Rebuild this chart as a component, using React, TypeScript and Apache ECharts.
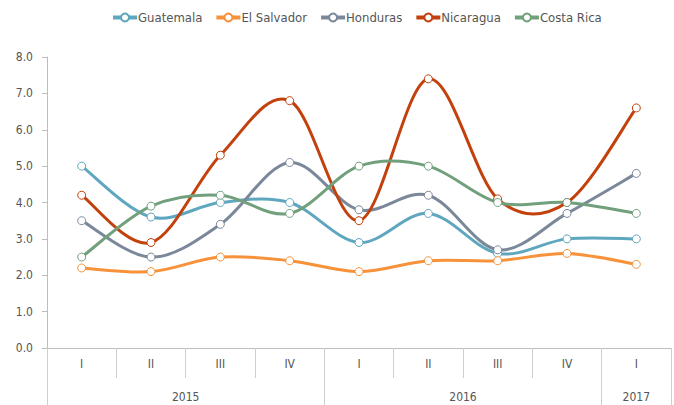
import React, { useEffect, useRef } from "react";
import * as echarts from "echarts";

const quarters = ["I", "II", "III", "IV", "I", "II", "III", "IV", "I"];
const yearSlots = ["", "", "", "", "2015", "", "", "", "", "", "", "", "2016", "", "", "", "", "2017", ""];
const yearTickIdx = [0, 8, 16, 18];

const seriesNames = ["Guatemala", "El Salvador", "Honduras", "Nicaragua", "Costa Rica"];
const colors = ["#5fa6bf", "#f7923a", "#7a889a", "#c2410c", "#72a07c"];

const guatemala = [5.0, 3.6, 4.0, 4.0, 2.9, 3.7, 2.6, 3.0, 3.0];
const elSalvador = [2.2, 2.1, 2.5, 2.4, 2.1, 2.4, 2.4, 2.6, 2.3];
const honduras = [3.5, 2.5, 3.4, 5.1, 3.8, 4.2, 2.7, 3.7, 4.8];
const nicaragua = [4.2, 2.9, 5.3, 6.8, 3.5, 7.4, 4.1, 4.0, 6.6];
const costaRica = [2.5, 3.9, 4.2, 3.7, 5.0, 5.0, 4.0, 4.0, 3.7];

const allData = [guatemala, elSalvador, honduras, nicaragua, costaRica];

const FONT = "'DejaVu Sans Condensed', 'Liberation Sans Narrow', Roboto, sans-serif";

function curvePath(pts: number[][]): string {
  const n = pts.length;
  let d = `M${pts[0][0]},${pts[0][1]}`;
  for (let i = 0; i < n - 1; i++) {
    const p0 = pts[Math.max(i - 1, 0)];
    const p1 = pts[i];
    const p2 = pts[i + 1];
    const p3 = pts[Math.min(i + 2, n - 1)];
    const c1x = p1[0] + (p2[0] - p0[0]) / 6;
    const c1y = p1[1] + (p2[1] - p0[1]) / 6;
    const c2x = p2[0] - (p3[0] - p1[0]) / 6;
    const c2y = p2[1] - (p3[1] - p1[1]) / 6;
    d += ` C${c1x},${c1y} ${c2x},${c2y} ${p2[0]},${p2[1]}`;
  }
  return d;
}

export default function App() {
  const ref = useRef<HTMLDivElement>(null);
  useEffect(() => {
    const chart = echarts.init(ref.current!, undefined, { renderer: "svg" });
    const markerSeries = seriesNames.map((name, i) => ({
      name,
      type: "line",
      xAxisIndex: 0,
      data: allData[i],
      symbol: "circle",
      symbolSize: 8,
      showSymbol: true,
      color: colors[i],
      lineStyle: { width: 0, opacity: 0, color: colors[i] },
      itemStyle: { color: "#fff", borderColor: colors[i], borderWidth: 1 },
      z: 10,
    }));
    const curveSeries = seriesNames.map((name, i) => ({
      name: name + " curve",
      type: "custom",
      xAxisIndex: 0,
      data: allData[i].map((v, j) => [j, v]),
      z: 2 + i,
      silent: true,
      renderItem: (params: any, api: any) => {
        if (params.dataIndex !== 0) return null;
        const pts = allData[i].map((v, j) => api.coord([j, v]));
        return {
          type: "path",
          shape: { pathData: curvePath(pts) },
          style: { fill: "none", stroke: colors[i], lineWidth: 3, lineJoin: "round", lineCap: "round" },
        };
      },
    }));
    chart.setOption({
      animation: false,
      textStyle: { fontFamily: FONT },
      legend: {
        top: 6,
        left: 106,
        itemWidth: 24,
        itemHeight: 10,
        itemGap: 12,
        textStyle: { color: "#555", fontSize: 13, fontFamily: FONT, padding: [0, 0, 0, -4] },
        data: seriesNames.map((name, i) => ({
          name,
          lineStyle: { width: 4, opacity: 1, color: colors[i] },
        })),
      },
      grid: { left: 47, right: 0, top: 57, bottom: 57, containLabel: false },
      xAxis: [
        {
          type: "category",
          data: quarters,
          boundaryGap: true,
          axisLine: { lineStyle: { color: "#bdbdbd" } },
          axisTick: { show: true, interval: 0, length: 30, lineStyle: { color: "#cfcfcf" } },
          axisLabel: { color: "#555", fontSize: 12, margin: 10, interval: 0, fontFamily: FONT },
        },
        {
          type: "category",
          data: yearSlots,
          boundaryGap: false,
          position: "bottom",
          offset: 30,
          axisLine: { show: false },
          axisTick: {
            show: true,
            length: 27,
            interval: (i: number) => yearTickIdx.indexOf(i) >= 0,
            lineStyle: { color: "#cfcfcf" },
          },
          axisLabel: { color: "#555", fontSize: 12, margin: 13, interval: 0, fontFamily: FONT },
        },
      ],
      yAxis: {
        type: "value",
        min: 0,
        max: 8,
        interval: 1,
        axisLine: { show: true, lineStyle: { color: "#bdbdbd" } },
        axisTick: { show: true, length: 5, lineStyle: { color: "#bdbdbd" } },
        splitLine: { show: false },
        axisLabel: {
          color: "#555",
          fontSize: 12,
          margin: 14,
          fontFamily: FONT,
          formatter: (v: number) => v.toFixed(1),
        },
      },
      series: [...markerSeries, ...curveSeries],
    });
    return () => chart.dispose();
  }, []);
  return <div ref={ref} style={{ width: 674, height: 405, position: "absolute", left: 0, top: 0 }} />;
}
